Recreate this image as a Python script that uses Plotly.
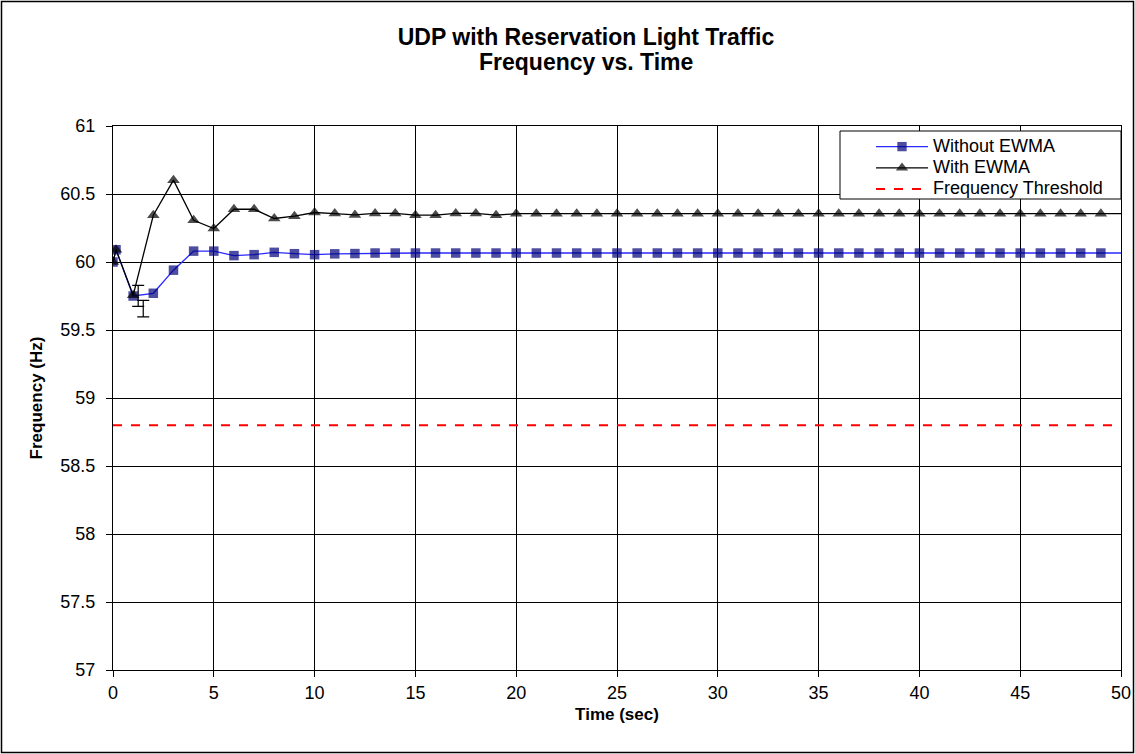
import plotly.graph_objects as go

# ---- data ----
time_sec = [0, 0.15, 1, 2, 3, 4, 5, 6, 7, 8, 9, 10, 11, 12, 13, 14, 15, 16, 17, 18, 19,
            20, 21, 22, 23, 24, 25, 26, 27, 28, 29, 30, 31, 32, 33, 34, 35, 36, 37, 38, 39,
            40, 41, 42, 43, 44, 45, 46, 47, 48, 49, 50]

without_ewma = [60.00, 60.09, 59.75, 59.77, 59.94, 60.08, 60.08, 60.047, 60.054, 60.071, 60.061,
                60.054, 60.060, 60.062, 60.066, 60.066, 60.066, 60.066, 60.066, 60.066, 60.066,
                60.066, 60.066, 60.066, 60.066, 60.066, 60.066, 60.066, 60.066, 60.066, 60.066,
                60.066, 60.066, 60.066, 60.066, 60.066, 60.066, 60.066, 60.066, 60.066, 60.066,
                60.066, 60.066, 60.066, 60.066, 60.066, 60.066, 60.066, 60.066, 60.066, 60.066,
                60.066]

with_ewma = [60.00, 60.09, 59.755, 60.344, 60.602, 60.307, 60.246, 60.388, 60.388, 60.320, 60.337,
             60.364, 60.356, 60.346, 60.357, 60.357, 60.344, 60.344, 60.357, 60.357, 60.344,
             60.355, 60.355, 60.355, 60.355, 60.355, 60.355, 60.355, 60.355, 60.355, 60.355,
             60.355, 60.355, 60.355, 60.355, 60.355, 60.355, 60.355, 60.355, 60.355, 60.355,
             60.355, 60.355, 60.355, 60.355, 60.355, 60.355, 60.355, 60.355, 60.355, 60.355,
             60.355]

threshold = 58.8

# error bars near the start
err_x = [1.25, 1.5]
err_y = [59.751, 59.657]
err_size = [0.077, 0.061]

x_ticks = [0, 5, 10, 15, 20, 25, 30, 35, 40, 45, 50]
y_ticks = [57, 57.5, 58, 58.5, 59, 59.5, 60, 60.5, 61]

title_line1 = "UDP with Reservation Light Traffic"
title_line2 = "Frequency vs. Time"
series_names = ["Without EWMA", "With EWMA", "Frequency Threshold"]

FONT = "Liberation Sans, Arial, sans-serif"


def legend_label(name):
    return '<span style="font-size:18px">' + name + "</span>"


# the last point (x=50) only continues the line, no marker
def marker_sizes(n, size):
    return [size] * (n - 1) + [0]


fig = go.Figure()

fig.add_trace(go.Scatter(
    x=time_sec, y=without_ewma, name=legend_label(series_names[0]), mode="lines+markers",
    line=dict(color="#2a2aff", width=1.3),
    marker=dict(symbol="square", color="#000078", size=marker_sizes(len(time_sec), 9.5),
                line=dict(width=0)),
))
fig.add_trace(go.Scatter(
    x=time_sec, y=with_ewma, name=legend_label(series_names[1]), mode="lines+markers",
    line=dict(color="black", width=1.3),
    marker=dict(symbol="triangle-up", color="black", size=marker_sizes(len(time_sec), 11),
                line=dict(width=0)),
))
fig.add_trace(go.Scatter(
    x=[0, 50], y=[threshold, threshold], name=legend_label(series_names[2]), mode="lines",
    line=dict(color="#ff0000", width=2, dash="dash"),
))
fig.add_trace(go.Scatter(
    x=err_x, y=err_y, mode="markers", showlegend=False, hoverinfo="skip",
    marker=dict(size=0.1, color="rgba(0,0,0,0)"),
    error_y=dict(type="data", array=err_size, visible=True, color="black",
                 thickness=1.2, width=6),
))

W, H = 1135, 754
L, R, T, B = 113, 14, 126, 84
pw, ph = W - L - R, H - T - B


def py(pix):  # pixel row -> paper y
    return (H - B - pix) / ph


def px(pix):  # pixel column -> paper x
    return (pix - L) / pw


fig.update_layout(
    width=W, height=H,
    margin=dict(l=L, r=R, t=T, b=B),
    paper_bgcolor="white", plot_bgcolor="white",
    font=dict(family=FONT, size=16, color="black"),
    title=dict(text="<b>" + title_line1 + "</b>",
               x=586 / W, xanchor="center", y=1 - 37 / H, yanchor="middle",
               font=dict(family=FONT, size=23, color="black")),
    annotations=[dict(text="<b>" + title_line2 + "</b>", xref="paper", yref="paper",
                      x=px(586), y=py(62), xanchor="center", yanchor="middle",
                      showarrow=False, font=dict(family=FONT, size=23, color="black"))],
    showlegend=True,
    legend=dict(x=px(871), xanchor="left", y=py(131), yanchor="top",
                bgcolor="rgba(0,0,0,0)", borderwidth=0,
                font=dict(family=FONT, size=14, color="black"),
                tracegroupgap=0, itemwidth=52),
    xaxis=dict(range=[0, 50], tickvals=x_ticks, ticktext=[str(v) for v in x_ticks],
               showgrid=True, gridcolor="black", gridwidth=1,
               showline=True, linecolor="black", linewidth=1, mirror=True,
               ticks="outside", ticklen=6, tickcolor="black",
               zeroline=False, automargin=False,
               tickfont=dict(family=FONT, size=18),
               title=dict(text="<b>Time (sec)</b>", font=dict(family=FONT, size=17),
                          standoff=6)),
    yaxis=dict(range=[57, 61], tickvals=y_ticks, ticktext=[f"{v:g}" for v in y_ticks],
               showgrid=True, gridcolor="black", gridwidth=1,
               showline=True, linecolor="black", linewidth=1, mirror=True,
               ticks="outside", ticklen=6, tickcolor="black",
               zeroline=False, automargin=False, ticklabelstandoff=7,
               tickfont=dict(family=FONT, size=18),
               title=dict(text="<b>Frequency (Hz)</b>", font=dict(family=FONT, size=17),
                          standoff=13)),
    shapes=[
        # outer chart frame
        dict(type="rect", xref="paper", yref="paper",
             x0=px(1.5), x1=px(W - 1.5), y0=py(H - 1.5), y1=py(1.5),
             line=dict(color="black", width=1.5), fillcolor="rgba(0,0,0,0)",
             layer="below"),
        # legend box
        dict(type="rect", xref="paper", yref="paper",
             x0=px(840), x1=px(1121), y0=py(199), y1=py(131),
             line=dict(color="black", width=1), fillcolor="white", layer="above"),
    ],
)

fig.write_html("out.html", config={"displayModeBar": False},
               post_script="document.body.style.margin='0';")
